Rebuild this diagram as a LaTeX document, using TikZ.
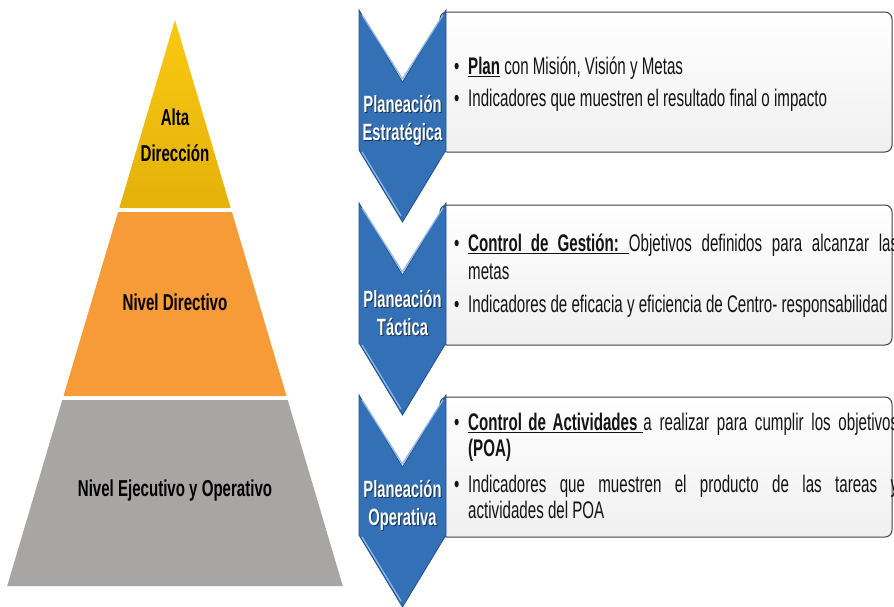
\documentclass[tikz,border=0pt]{standalone}
\usepackage{fontspec}
\newfontfamily\nar[FakeStretch=0.63]{Liberation Sans}
\newfontfamily\narp[FakeStretch=0.655]{Liberation Sans}
\definecolor{yelT}{HTML}{FBC811}
\definecolor{yelB}{HTML}{E3B20B}
\definecolor{orng}{HTML}{F79A38}
\definecolor{gryP}{HTML}{A8A5A5}
\definecolor{bluC}{HTML}{3370B6}
\definecolor{bluD}{HTML}{22528C}
\definecolor{bluL}{HTML}{8DB5E3}
\definecolor{boxB}{HTML}{404040}
\newcommand\thickul[1]{\setbox0\hbox{#1}\rlap{\rule[-3.2pt]{\wd0}{1.4pt}}\box0\relax}
\tikzset{
  band/.style={draw=none},
  chevshape/.style={fill=bluC,draw=bluD,line width=0.8pt,line join=miter},
  bevel/.style={draw=bluL,line width=1.3pt},
  infobox/.style={draw=boxB,line width=1pt,rounded corners=7pt,top color=white,bottom color=black!6},
  pyrlabel/.style={font=\narp\bfseries\fontsize{23}{36}\selectfont,align=center,text=black,inner sep=0pt},
  chevlabel/.style={font=\nar\bfseries\fontsize{23.5}{28}\selectfont,align=center,text=white,inner sep=0pt},
  chevshadow/.style={font=\nar\bfseries\fontsize{23.5}{28}\selectfont,align=center,text=black,opacity=0.55,inner sep=0pt},
  txt/.style={font=\nar\fontsize{24}{28}\selectfont,anchor=base west,inner sep=0pt,text=black!92},
  bul/.style={font=\nar\fontsize{24}{28}\selectfont,anchor=base west,inner sep=0pt,text=black!92}
}
\newcommand\mychev[1]{%
  \draw[chevshape] (359,#1) -- (402.5,#1+72) -- (446,#1) -- (446,#1+140) -- (402.5,#1+212) -- (359,#1+140) -- cycle;
  \draw[bevel] (362,#1+5) -- (402.5,#1+69);
  \draw[bevel] (443,#1+5) -- (402.5,#1+69);
  \draw[bevel] (362,#1+142) -- (401,#1+206);
}
\begin{document}
\begin{tikzpicture}[x=1pt,y=-1pt]
\useasboundingbox (0,0) rectangle (894,606);
\fill[white] (0,0) rectangle (894,606);
% pyramid
\path[band,top color=yelT,bottom color=yelB] (175,20) -- (230.7,208) -- (119.3,208) -- cycle;
\path[band,fill=orng] (118.1,212) -- (231.9,212) -- (286.5,396) -- (63.5,396) -- cycle;
\path[band,fill=gryP] (62.3,400) -- (287.7,400) -- (342.8,586) -- (7.2,586) -- cycle;
\node[pyrlabel] (alta) at (175,135) {Alta\\Dirección};
\node[pyrlabel] (ndir) at (175,302) {Nivel Directivo};
\node[pyrlabel] (nejo) at (175,491) {Nivel Ejecutivo y Operativo};
% boxes
\path[infobox] (440,12) rectangle (892,152);
\path[infobox] (440,205) rectangle (892,345);
\path[infobox] (440,397) rectangle (892,537);
% chevrons
\mychev{395}
\mychev{203}
\mychev{10}
\node[chevshadow] (pes) at (403.5,121) {Planeación\\Estratégica};
\node[chevlabel] (pe) at (402.5,120) {Planeación\\Estratégica};
\node[chevshadow] (pts) at (403.5,313.5) {Planeación\\Táctica};
\node[chevlabel] (pt) at (402.5,312.5) {Planeación\\Táctica};
\node[chevshadow] (pos) at (403.5,506) {Planeación\\Operativa};
\node[chevlabel] (po) at (402.5,505) {Planeación\\Operativa};
% box 1 text
\node[bul] (b1a) at (454,74) {•};
\node[txt] (t1a) at (468,74) {\thickul{\textbf{Plan}} con Misión, Visión y Metas};
\node[bul] (b1b) at (454,106) {•};
\node[txt] (t1b) at (468,106) {Indicadores que muestren el resultado final o impacto};
% box 2 text
\node[bul] (b2a) at (454,251) {•};
\node[txt] (t2a) at (468,251) {\makebox[430pt][s]{\thickul{\textbf{Control\hspace{9pt}de\hspace{9pt}Gestión:}\hspace{10pt}}Objetivos definidos para alcanzar las}};
\node[txt] (t2b) at (468,279) {metas};
\node[bul] (b2c) at (454,312) {•};
\node[txt] (t2c) at (468,312) {Indicadores de eficacia y eficiencia de Centro- responsabilidad};
% box 3 text
\node[bul] (b3a) at (454,430) {•};
\node[txt] (t3a) at (468,430) {\makebox[430pt][s]{\thickul{\textbf{Control\hspace{6.5pt}de\hspace{6.5pt}Actividades}\hspace{6pt}}a realizar para cumplir los objetivos}};
\node[txt] (t3b) at (468,456) {\textbf{(POA)}};
\node[bul] (b3c) at (454,492) {•};
\node[txt] (t3c) at (468,492) {\makebox[430pt][s]{Indicadores que muestren el producto de las tareas y}};
\node[txt] (t3d) at (468,518) {actividades del POA};
\end{tikzpicture}
\end{document}
